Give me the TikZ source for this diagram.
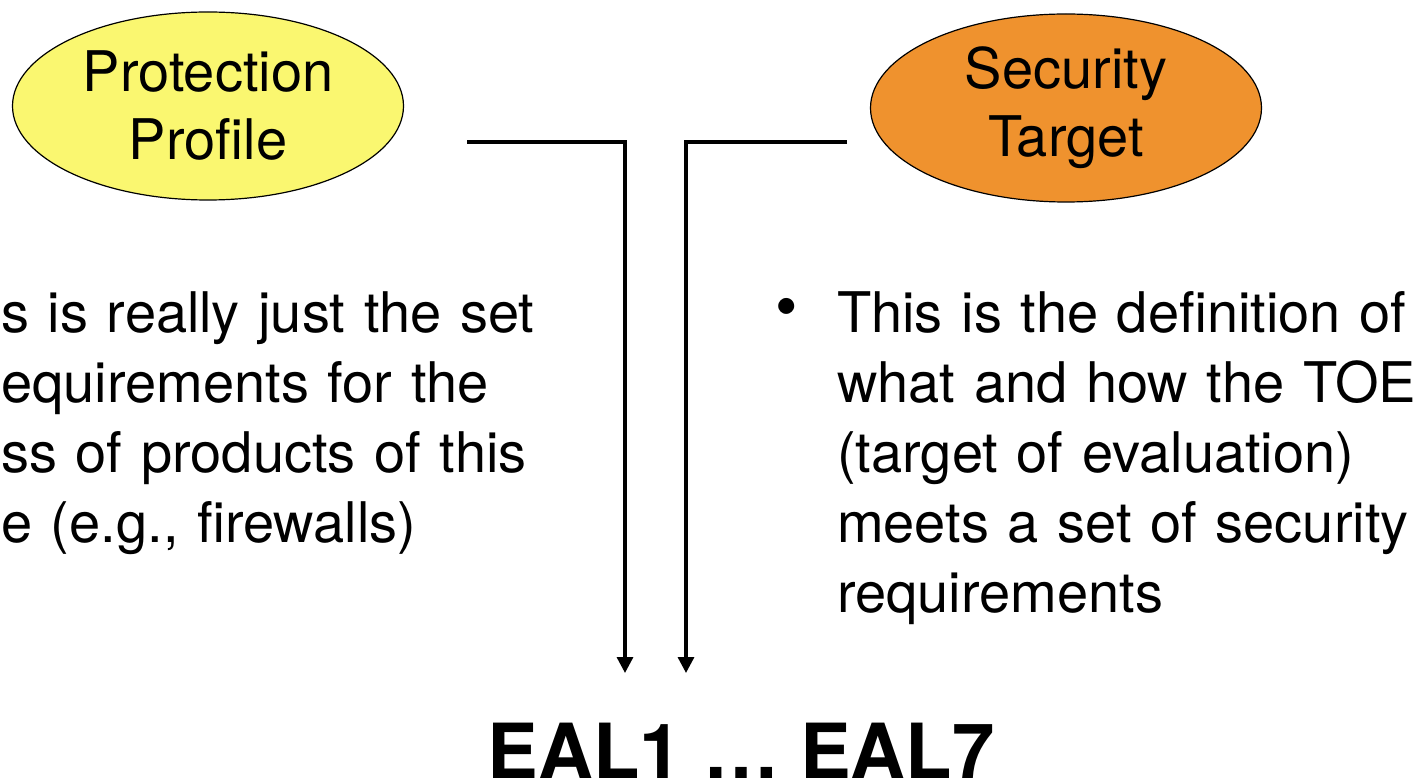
\documentclass[tikz,border=0pt]{standalone}
\usepackage{fontspec}
\setmainfont{TeX Gyre Heros}
\usetikzlibrary{shapes.geometric,arrows.meta}
\definecolor{ppyellow}{RGB}{250,247,112}
\definecolor{storange}{RGB}{239,146,46}

\begin{document}
\begin{tikzpicture}[x=1pt,y=-1pt,>={Triangle[length=16pt,width=16pt]},
  profile node/.style={ellipse,draw,line width=1.2pt,minimum width=391pt,minimum height=188pt,
    inner sep=0pt,align=center,font=\fontsize{56}{68}\selectfont},
  body text/.style={anchor=base west,inner sep=0pt,text width=600pt,align=left,
    font=\fontsize{56}{70}\selectfont},
  wire/.style={->,line width=3.3pt}]
  \useasboundingbox (0,0) rectangle (1424,783);

  \node[profile node,fill=ppyellow] (pp) at (208,106) {Protection\\Profile};
  \node[profile node,fill=storange] (st) at (1066,108) {Security\\Target};

  % left column starts at the page edge
  \node[body text] (ppdesc) at (1,333) {s is really just the set\\equirements for the\\ss of products of this\\e (e.g., firewalls)};
  \node[inner sep=0pt,font=\fontsize{64}{64}\selectfont] (bullet) at (787,313) {\textbullet};
  \node[body text] (stdesc) at (837,333) {This is the definition of\\what and how the TOE\\(target of evaluation)\\meets a set of security\\requirements};

  \node[anchor=base,inner sep=0pt,font=\fontsize{76}{76}\selectfont\bfseries] (eal) at (741,778) {EAL1 … EAL7};

  \coordinate (ppwire) at (467,142);
  \coordinate (stwire) at (847,142);
  \coordinate (ppend) at (625,673);
  \coordinate (stend) at (686,673);
  \draw[wire] (ppwire) -| (ppend);
  \draw[wire] (stwire) -| (stend);
\end{tikzpicture}
\end{document}
